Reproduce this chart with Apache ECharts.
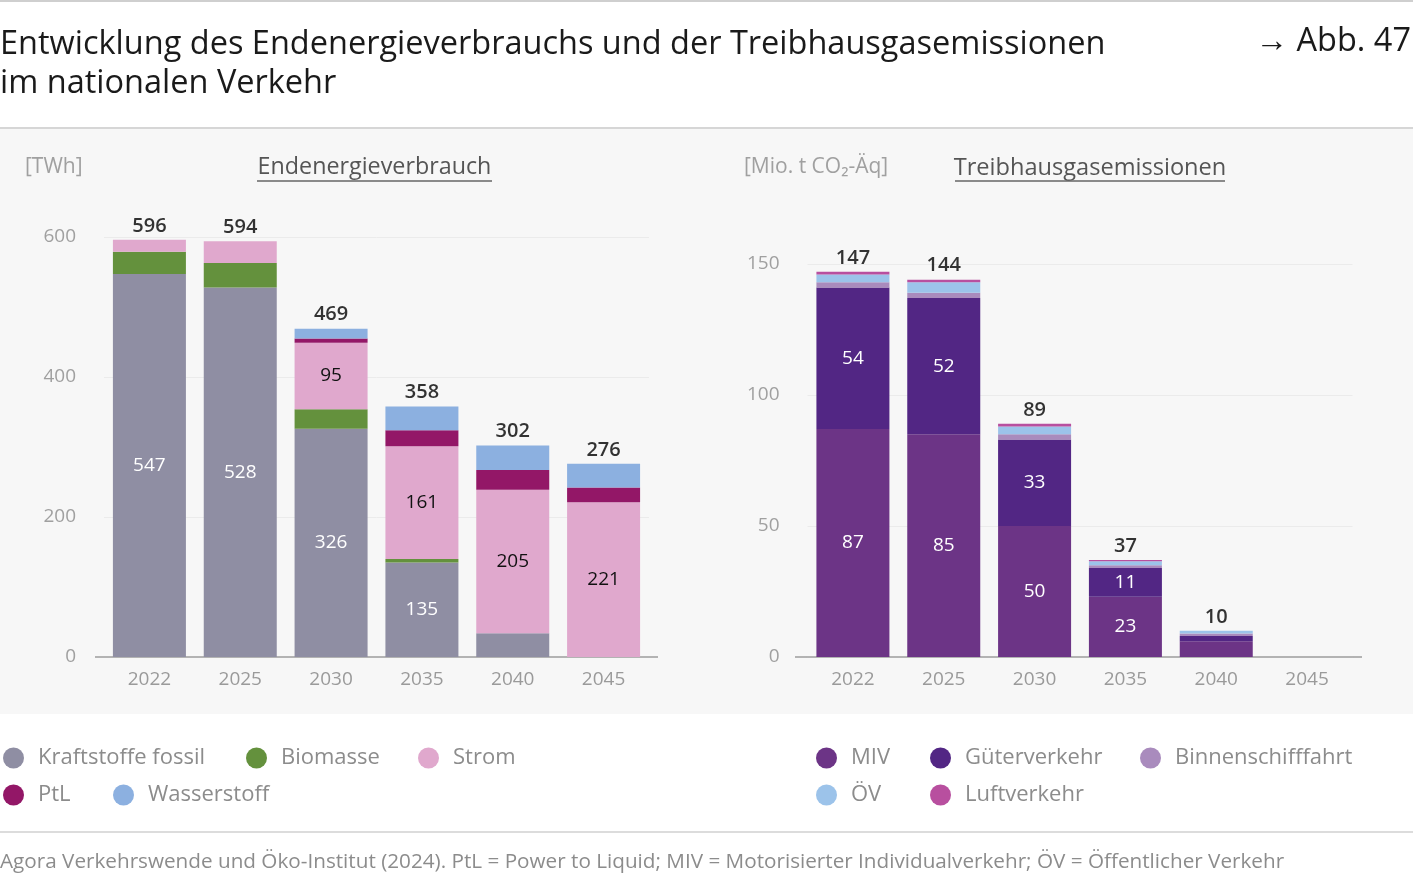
<!DOCTYPE html>
<html lang="de">
  <head>
    <meta charset="UTF-8" />
    <title>Endenergieverbrauch und Treibhausgasemissionen im Verkehr</title>
    <style>
      * {
        margin: 0;
        padding: 0;
      }
      body {
        background: #ffffff;
      }
    </style>
  </head>
  <body>
    <div id="main" style="width: 1413px; height: 894px;"></div>
    <script src="https://cdn.jsdelivr.net/npm/echarts@6/dist/echarts.min.js"></script>
    <script>
      // Daten
      const jahre = ["2022", "2025", "2030", "2035", "2040", "2045"];

      // Endenergieverbrauch [TWh]
      const fossil = [547, 528, 326, 135, 34, 0];
      const biomasse = [32, 35, 28, 5, 0, 0];
      const strom = [17, 31, 95, 161, 205, 221];
      const ptl = [0, 0, 6, 23, 28, 21];
      const wasserstoff = [0, 0, 14, 34, 35, 34];

      // Treibhausgasemissionen [Mio. t CO2-Äq]
      const miv = [87, 85, 50, 23, 6, 0];
      const gueter = [54, 52, 33, 11, 2, 0];
      const binnen = [2, 2, 2, 1, 1, 0];
      const oev = [3, 4, 3, 1.5, 1, 0];
      const luft = [1, 1, 1, 0.5, 0, 0];

      const energieTicks = [0, 200, 400, 600];
      const thgTicks = [0, 50, 100, 150];

      const FONT = "'Open Sans', 'Noto Sans', sans-serif";
      const GREY = "#8c8c8c";

      // Summe je Jahr
      function summe(reihen) {
        return jahre.map((j, i) => reihen.reduce((s, r) => s + r[i], 0));
      }

      // gestapelte Balkenreihe
      function balken(name, werte, farbe, achse, schwelle, textFarbe) {
        return {
          name: name,
          type: "bar",
          stack: "s" + achse,
          xAxisIndex: achse,
          yAxisIndex: achse,
          data: werte,
          barWidth: 73,
          itemStyle: { color: farbe },
          label: {
            show: schwelle !== null,
            position: "inside",
            color: textFarbe,
            fontFamily: FONT,
            fontSize: 19,
            formatter: (p) => (p.value >= schwelle ? p.value : ""),
          },
        };
      }

      // Summenbeschriftung
      function summenReihe(werte, achse) {
        return {
          type: "scatter",
          xAxisIndex: achse,
          yAxisIndex: achse,
          symbolSize: 0,
          silent: true,
          data: werte,
          label: {
            show: true,
            position: "top",
            distance: 4,
            color: "#000",
            fontFamily: FONT,
            fontSize: 20,
            fontWeight: 600,
            formatter: (p) => (p.value > 0 ? Math.round(p.value) : ""),
          },
        };
      }

      function legende(name, left, top) {
        return {
          data: [name],
          left: left,
          top: top,
          icon: "circle",
          itemWidth: 21,
          itemHeight: 21,
          selectedMode: false,
          textStyle: {
            color: GREY,
            fontFamily: FONT,
            fontSize: 22,
            padding: [0, 0, 0, 9],
          },
        };
      }

      function xAchse(index) {
        return {
          type: "category",
          gridIndex: index,
          data: jahre,
          axisTick: { show: false },
          axisLine: { lineStyle: { color: "#b3b3b3", width: 2 } },
          axisLabel: {
            color: "#9a9a9a",
            fontFamily: FONT,
            fontSize: 19,
            margin: 13,
          },
        };
      }

      function yAchse(index, ticks) {
        return {
          type: "value",
          gridIndex: index,
          min: ticks[0],
          max: ticks[ticks.length - 1],
          interval: ticks[1] - ticks[0],
          axisLine: { show: false },
          axisTick: { show: false },
          splitLine: { lineStyle: { color: "#ebebeb", width: 1 } },
          axisLabel: {
            color: "#a0a0a0",
            fontFamily: FONT,
            fontSize: 19,
            margin: 28,
          },
        };
      }

      function draw() {
        let myEcharts = echarts.init(document.getElementById("main"));
        let option = {
          animation: false,
          textStyle: { fontFamily: FONT },
          graphic: [
            { type: "line", shape: { x1: 0, y1: 1, x2: 1413, y2: 1 }, style: { stroke: "#cfcfcf", lineWidth: 2 } },
            { type: "rect", shape: { x: 0, y: 129, width: 1413, height: 585 }, style: { fill: "#f7f7f7" }, z: -10 },
            { type: "line", shape: { x1: 0, y1: 128, x2: 1413, y2: 128 }, style: { stroke: "#d6d6d6", lineWidth: 2 } },
            { type: "line", shape: { x1: 0, y1: 832, x2: 1413, y2: 832 }, style: { stroke: "#dcdcdc", lineWidth: 2 } },
            // verlaengerte Grundlinien
            { type: "line", shape: { x1: 95, y1: 657, x2: 658, y2: 657 }, style: { stroke: "#b3b3b3", lineWidth: 2 }, z: -1 },
            { type: "line", shape: { x1: 795, y1: 657, x2: 1362, y2: 657 }, style: { stroke: "#b3b3b3", lineWidth: 2 }, z: -1 },
            {
              type: "text",
              left: 0,
              top: 25,
              style: {
                text: "Entwicklung des Endenergieverbrauchs und der Treibhausgasemissionen\nim nationalen Verkehr",
                font: "32.5px " + FONT,
                lineHeight: 39,
                fill: "#1a1a1a",
              },
            },
            {
              type: "text",
              right: 2,
              top: 25,
              style: { text: "→ Abb. 47", font: "32.5px " + FONT, fill: "#1a1a1a" },
            },
            {
              type: "text",
              left: 25,
              top: 157,
              style: { text: "[TWh]", font: "21px " + FONT, fill: "#a0a0a0" },
            },
            {
              type: "text",
              x: 374.5,
              y: 156,
              style: { text: "Endenergieverbrauch", font: "23.3px " + FONT, fill: "#555", textAlign: "center" },
            },
            { type: "line", shape: { x1: 257, y1: 181, x2: 492, y2: 181 }, style: { stroke: "#666", lineWidth: 1.5 } },
            {
              type: "text",
              left: 744,
              top: 157,
              style: { text: "[Mio. t CO₂-Äq]", font: "21px " + FONT, fill: "#a0a0a0" },
            },
            {
              type: "text",
              x: 1090,
              y: 156,
              style: { text: "Treibhausgasemissionen", font: "23.6px " + FONT, fill: "#555", textAlign: "center" },
            },
            { type: "line", shape: { x1: 955, y1: 181, x2: 1225, y2: 181 }, style: { stroke: "#666", lineWidth: 1.5 } },
            {
              type: "text",
              left: 0,
              top: 852,
              style: {
                text: "Agora Verkehrswende und Öko-Institut (2024). PtL = Power to Liquid; MIV = Motorisierter Individualverkehr; ÖV = Öffentlicher Verkehr",
                font: "20.7px " + FONT,
                fill: GREY,
              },
            },
          ],
          legend: [
            legende("Kraftstoffe fossil", -2, 742),
            legende("Biomasse", 241, 742),
            legende("Strom", 413, 742),
            legende("PtL", -2, 779),
            legende("Wasserstoff", 108, 779),
            legende("MIV", 811, 742),
            legende("Güterverkehr", 925, 742),
            legende("Binnenschifffahrt", 1135, 742),
            legende("ÖV", 811, 779),
            legende("Luftverkehr", 925, 779),
          ],
          grid: [
            { left: 104, width: 545, top: 237, bottom: 237 },
            { left: 807.5, width: 545, top: 264, bottom: 237 },
          ],
          xAxis: [xAchse(0), xAchse(1)],
          yAxis: [yAchse(0, energieTicks), yAchse(1, thgTicks)],
          series: [
            balken("Kraftstoffe fossil", fossil, "#8f8ea3", 0, 50, "#fff"),
            balken("Biomasse", biomasse, "#64913d", 0, null, "#fff"),
            balken("Strom", strom, "#e0a8cd", 0, 50, "#111"),
            balken("PtL", ptl, "#931767", 0, null, "#fff"),
            balken("Wasserstoff", wasserstoff, "#8cb0e0", 0, null, "#fff"),
            summenReihe(summe([fossil, biomasse, strom, ptl, wasserstoff]), 0),
            balken("MIV", miv, "#6c3486", 1, 10, "#fff"),
            balken("Güterverkehr", gueter, "#522684", 1, 10, "#fff"),
            balken("Binnenschifffahrt", binnen, "#a98bbd", 1, null, "#fff"),
            balken("ÖV", oev, "#9cc3ea", 1, null, "#fff"),
            balken("Luftverkehr", luft, "#b84f9f", 1, null, "#fff"),
            summenReihe(summe([miv, gueter, binnen, oev, luft]), 1),
          ],
        };
        myEcharts.setOption(option);
      }
      draw();
    </script>
  </body>
</html>
